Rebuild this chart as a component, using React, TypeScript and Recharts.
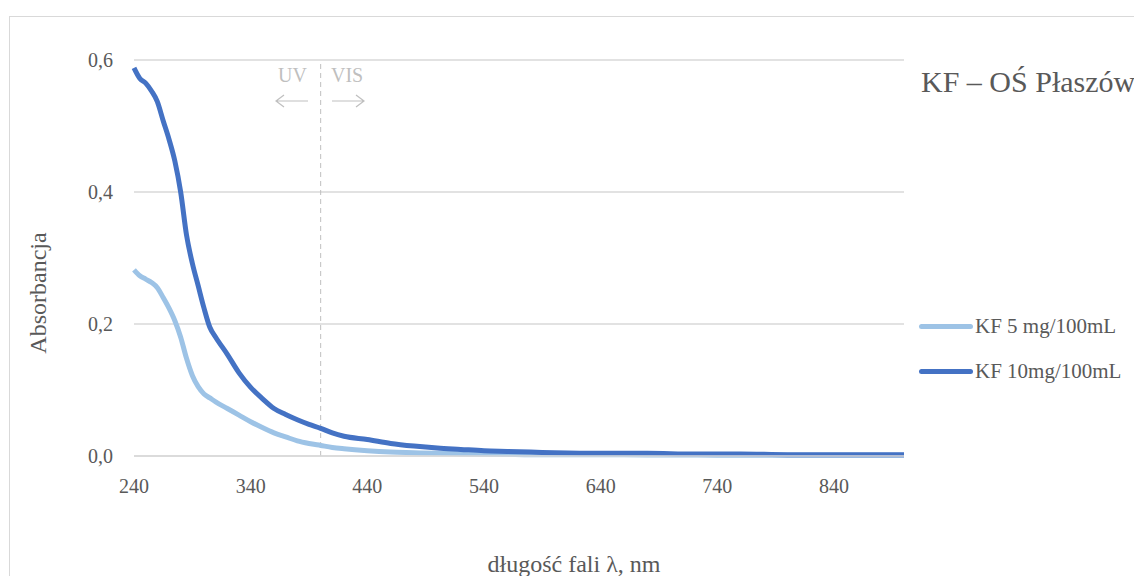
import React from 'react';
import { LineChart, Line, XAxis, YAxis, CartesianGrid, ReferenceLine } from 'recharts';

const wavelengths = [240, 245, 250, 255, 260, 265, 270, 275, 280, 285, 290, 295, 300, 305, 310, 320, 330, 340, 350, 360, 370, 380, 390, 400, 410, 420, 440, 460, 480, 500, 520, 540, 560, 580, 600, 640, 680, 720, 760, 800, 840, 880, 900];
const kf5 = [0.282, 0.273, 0.268, 0.263, 0.255, 0.240, 0.224, 0.205, 0.180, 0.148, 0.122, 0.105, 0.094, 0.088, 0.082, 0.072, 0.062, 0.052, 0.043, 0.035, 0.029, 0.023, 0.019, 0.016, 0.013, 0.011, 0.008, 0.006, 0.005, 0.004, 0.0035, 0.003, 0.0025, 0.002, 0.002, 0.002, 0.0015, 0.0015, 0.001, 0.001, 0.001, 0.001, 0.001];
const kf10 = [0.588, 0.572, 0.565, 0.553, 0.537, 0.508, 0.480, 0.447, 0.400, 0.335, 0.292, 0.258, 0.224, 0.195, 0.180, 0.154, 0.126, 0.104, 0.087, 0.072, 0.063, 0.055, 0.048, 0.042, 0.035, 0.030, 0.025, 0.019, 0.015, 0.012, 0.010, 0.008, 0.007, 0.006, 0.005, 0.004, 0.004, 0.003, 0.003, 0.002, 0.002, 0.002, 0.002];
const xTicks = [240, 340, 440, 540, 640, 740, 840];
const yTicks = [0, 0.2, 0.4, 0.6];
const seriesNames = ['KF 5 mg/100mL', 'KF 10mg/100mL'];

const data = wavelengths.map((nm, i) => ({ nm, a: kf5[i], b: kf10[i] }));

const FONT = '"Liberation Serif", "Times New Roman", serif';
const GREY = '#595959';
const COLORS = ['#9DC3E6', '#4472C4'];

const App: React.FC = () => {
  // outer box runs from the body margin to the page's bottom edge; inner box is shifted back to page origin
  return <div style={{ position: 'relative', width: 1134, height: 568 }}>
      <div style={{ position: 'absolute', left: -8, top: -8, width: 1142, height: 576, overflow: 'hidden', background: '#fff', fontFamily: FONT }}>
        <div style={{ position: 'absolute', left: 9, top: 16, width: 1160, height: 600, border: '1.5px solid #d9d9d9' }} />
        <LineChart width={1142} height={576} data={data} margin={{ top: 60, right: 238, bottom: 90, left: 74 }} style={{ position: 'absolute', left: 0, top: 0 }}>
          <CartesianGrid horizontal vertical={false} stroke="#d9d9d9" strokeWidth={1.5} />
          <XAxis dataKey="nm" type="number" domain={[240, 900]} ticks={xTicks} tickLine={false} tickSize={0} tickMargin={23} axisLine={{ stroke: '#d9d9d9', strokeWidth: 1.5 }} tick={{ fill: GREY, fontSize: 20, fontFamily: FONT }} height={30} />
          <YAxis type="number" domain={[0, 0.6]} ticks={yTicks} tickLine={false} axisLine={false} tickSize={0} tickMargin={21} width={60} tick={{ fill: GREY, fontSize: 20, fontFamily: FONT }} tickFormatter={(v: number) => v.toFixed(1).replace('.', ',')} />
          <ReferenceLine x={400} stroke="#bfbfbf" strokeDasharray="5 4" strokeWidth={1} />
          <Line dataKey="a" name={seriesNames[0]} stroke={COLORS[0]} strokeWidth={5} dot={false} type="monotone" isAnimationActive={false} />
          <Line dataKey="b" name={seriesNames[1]} stroke={COLORS[1]} strokeWidth={5} dot={false} type="monotone" isAnimationActive={false} />
        </LineChart>
        <div style={{ position: 'absolute', left: 919, top: 304, fontSize: 21, color: GREY }}>
          {seriesNames.map((name, i) => <div key={name} style={{ display: 'flex', alignItems: 'center', height: 45, whiteSpace: 'nowrap' }}>
              <span style={{ display: 'inline-block', width: 54, height: 5, borderRadius: 3, background: COLORS[i], marginRight: 2 }} />
              <span>{name}</span>
            </div>)}
        </div>
        <div style={{ position: 'absolute', left: 921, top: 65, fontSize: 30, color: GREY, whiteSpace: 'nowrap' }}>KF – OŚ Płaszów</div>
        <div style={{ position: 'absolute', left: 278, top: 64, fontSize: 20, color: '#bfbfbf' }}>UV</div>
        <div style={{ position: 'absolute', left: 331, top: 64, fontSize: 20, color: '#bfbfbf' }}>VIS</div>
        <svg width={1142} height={576} style={{ position: 'absolute', left: 0, top: 0, pointerEvents: 'none' }}>
          <g stroke="#bfbfbf" strokeWidth={1.2} fill="none">
            <path d="M276 101 H308 M284 95 L276 101 L284 107" />
            <path d="M332 101 H364 M356 95 L364 101 L356 107" />
          </g>
        </svg>
        <div style={{ position: 'absolute', left: 38, top: 293, transform: 'translate(-50%, -50%) rotate(-90deg)', fontSize: 24, color: GREY, whiteSpace: 'nowrap' }}>Absorbancja</div>
        <div style={{ position: 'absolute', left: 574, top: 564, transform: 'translate(-50%, -50%)', fontSize: 24, color: GREY, whiteSpace: 'nowrap' }}>długość fali λ, nm</div>
      </div>
    </div>;
};

export default App;
